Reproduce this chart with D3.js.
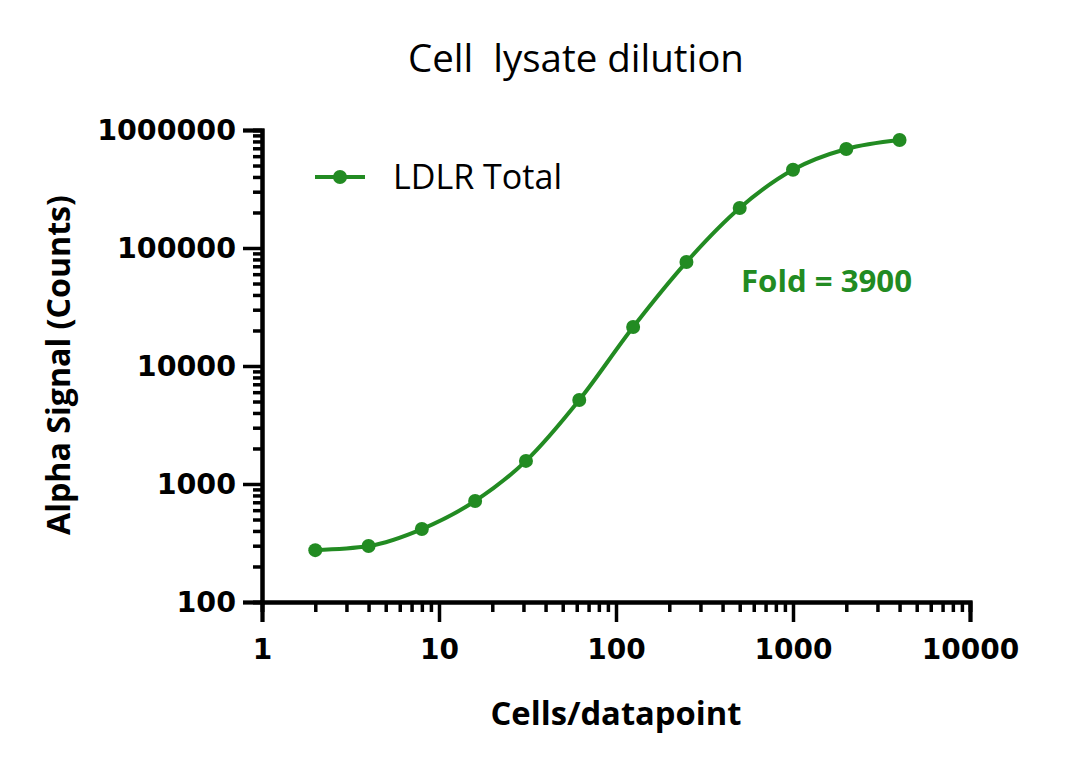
<!DOCTYPE html>
<html><head><meta charset="utf-8">
<script src="https://cdn.jsdelivr.net/npm/d3@7"></script>
<style>body{margin:0;background:#fff}svg{display:block}text{font-family:"Open Sans",sans-serif}.tick text{font-family:"DejaVu Sans",sans-serif}</style>
</head><body>
<svg id="c" width="1080" height="770"></svg>
<script>
const cells = [2,4,8,16,31,62,125,250,500,1000,2000,4000];
const signal = [275,298,415,718,1570,5150,21400,76000,218000,460000,690000,822000];
const xTicks = [1,10,100,1000,10000];
const yTicks = [100,1000,10000,100000,1000000];
const seriesName = "LDLR Total";
const title = "Cell  lysate dilution";
const green = "#228B22";

const svg = d3.select("#c");
const x = d3.scaleLog().domain([1,10000]).range([262,970]);
const y = d3.scaleLog().domain([100,1000000]).range([602,130]);

function minors(dom){const out=[];for(let d=dom[0];d<dom[1];d*=10){for(let k=2;k<=9;k++)out.push(d*k);}return out;}
// scale font size so text reaches the given width
function fit(sel, w){const n=sel.node();const fs=+sel.attr("font-size");const L=n.getComputedTextLength();sel.attr("font-size",(fs*w/L).toFixed(2));return sel;}

const gx = svg.append("g").attr("transform","translate(0,602)");
gx.call(d3.axisBottom(x).tickValues(minors([1,10000])).tickSize(10).tickFormat(""));
gx.append("g").call(d3.axisBottom(x).tickValues(xTicks).tickSize(20).tickPadding(17).tickFormat(d3.format("d")));
gx.selectAll("path.domain").attr("stroke-width",4).attr("stroke","#000");
gx.selectAll("line").attr("stroke-width",3.5).attr("stroke","#000");
gx.selectAll("text").attr("font-size",28).attr("font-weight",700).attr("fill","#000");

const gy = svg.append("g").attr("transform","translate(262,0)");
gy.call(d3.axisLeft(y).tickValues(minors([100,1000000])).tickSize(9).tickFormat(""));
gy.append("g").call(d3.axisLeft(y).tickValues(yTicks).tickSize(19).tickPadding(7).tickFormat(d3.format("d")));
gy.selectAll("path.domain").attr("stroke-width",4).attr("stroke","#000");
gy.selectAll("line").attr("stroke-width",3.5).attr("stroke","#000");
gy.selectAll("text").attr("font-size",28.5).attr("font-weight",700).attr("fill","#000");

const data = cells.map((c,i)=>({c,s:signal[i]}));
svg.append("path").datum(data)
  .attr("d", d3.line().x(d=>x(d.c)).y(d=>y(d.s)).curve(d3.curveMonotoneX))
  .attr("fill","none").attr("stroke",green).attr("stroke-width",4);
svg.selectAll("circle.pt").data(data).join("circle").attr("class","pt")
  .attr("cx",d=>x(d.c)).attr("cy",d=>y(d.s)).attr("r",7).attr("fill",green);

svg.append("line").attr("x1",315).attr("x2",365).attr("y1",177).attr("y2",177).attr("stroke",green).attr("stroke-width",4);
svg.append("circle").attr("cx",340).attr("cy",177).attr("r",7).attr("fill",green);
fit(svg.append("text").attr("x",393).attr("y",189).attr("font-size",28).text(seriesName),169);

fit(svg.append("text").attr("x",741).attr("y",292).attr("font-size",24).attr("font-weight",700).attr("fill",green).text("Fold = 3900"),171);

fit(svg.append("text").attr("x",576).attr("y",72).attr("text-anchor","middle").attr("font-size",30)
  .style("white-space","pre").text(title),336);
fit(svg.append("text").attr("x",616).attr("y",725).attr("text-anchor","middle").attr("font-size",26).attr("font-weight",700).text("Cells/datapoint"),251);
fit(svg.append("text").attr("transform","translate(70,365) rotate(-90)").attr("text-anchor","middle").attr("font-size",26).attr("font-weight",700).text("Alpha Signal (Counts)"),340);
</script>
</body></html>
